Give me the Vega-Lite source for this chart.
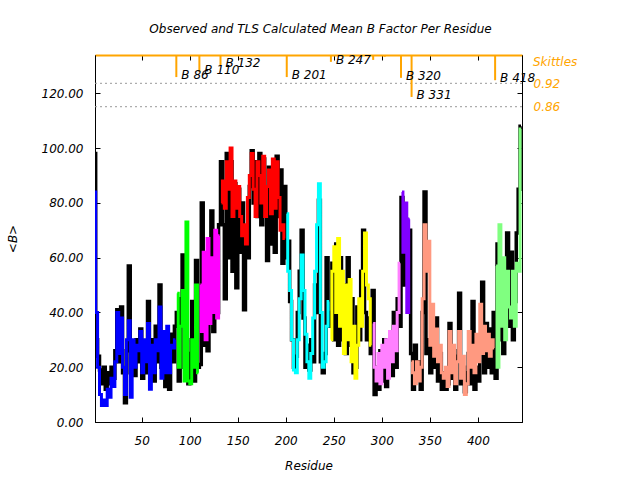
{
  "$schema": "https://vega.github.io/schema/vega-lite/v6.json",
  "width": 427,
  "height": 367,
  "autosize": "none",
  "padding": {"left": 95, "top": 55, "right": 118, "bottom": 58},
  "background": "white",
  "config": {
    "view": {"stroke": "black", "strokeWidth": 1},
    "font": "DejaVu Sans",
    "axis": {"labelFont": "DejaVu Sans", "labelFontStyle": "italic", "labelFontSize": 12, "labelColor": "black", "titleFont": "DejaVu Sans", "titleFontStyle": "italic", "titleFontWeight": "normal", "titleFontSize": 12, "titleColor": "black", "grid": false, "domainColor": "black", "tickColor": "black"}
  },
  "title": {"text": "Observed and TLS Calculated Mean B Factor Per Residue", "font": "DejaVu Sans", "fontStyle": "italic", "fontWeight": "normal", "fontSize": 12, "color": "black", "dx": 12, "offset": 13},
  "datasets": {
    "res": [
      {"r":1,"o":98,"t":84,"g":"A"},{"r":3,"o":30,"t":40,"g":"A"},{"r":5,"o":24,"t":20,"g":"A"},{"r":7,"o":19,"t":10,"g":"A"},{"r":9,"o":14,"t":6,"g":"A"},{"r":11,"o":20,"t":8,"g":"A"},{"r":13,"o":12,"t":6,"g":"A"},{"r":15,"o":18,"t":12,"g":"A"},{"r":17,"o":14,"t":9,"g":"A"},{"r":19,"o":20,"t":16,"g":"A"},{"r":21,"o":16,"t":13,"g":"A"},{"r":23,"o":26,"t":22,"g":"A"},{"r":25,"o":41,"t":40,"g":"A"},{"r":27,"o":22,"t":25,"g":"A"},{"r":29,"o":42,"t":38,"g":"A"},{"r":31,"o":18,"t":20,"g":"A"},{"r":33,"o":7,"t":10,"g":"A"},{"r":35,"o":26,"t":30,"g":"A"},{"r":37,"o":57,"t":37,"g":"A"},{"r":39,"o":18,"t":9,"g":"A"},{"r":41,"o":28,"t":30,"g":"A"},{"r":43,"o":17,"t":20,"g":"A"},{"r":45,"o":30,"t":28,"g":"A"},{"r":47,"o":22,"t":26,"g":"A"},{"r":49,"o":34,"t":33,"g":"A"},{"r":51,"o":16,"t":18,"g":"A"},{"r":53,"o":26,"t":30,"g":"A"},{"r":55,"o":18,"t":22,"g":"A"},{"r":57,"o":44,"t":36,"g":"A"},{"r":59,"o":20,"t":12,"g":"A"},{"r":61,"o":30,"t":28,"g":"A"},{"r":63,"o":15,"t":18,"g":"A"},{"r":65,"o":35,"t":30,"g":"A"},{"r":67,"o":22,"t":26,"g":"A"},{"r":69,"o":50,"t":42,"g":"A"},{"r":71,"o":20,"t":16,"g":"A"},{"r":73,"o":28,"t":33,"g":"A"},{"r":75,"o":13,"t":18,"g":"A"},{"r":77,"o":30,"t":35,"g":"A"},{"r":79,"o":12,"t":18,"g":"A"},{"r":81,"o":32,"t":28,"g":"A"},{"r":83,"o":22,"t":27,"g":"A"},{"r":85,"o":35,"t":30,"g":"A"},
      {"r":87,"o":40,"t":47,"g":"B"},{"r":89,"o":15,"t":20,"g":"B"},{"r":91,"o":45,"t":35,"g":"B"},{"r":93,"o":61,"t":48,"g":"B"},{"r":95,"o":20,"t":15,"g":"B"},{"r":97,"o":30,"t":73,"g":"B"},{"r":99,"o":14,"t":15,"g":"B"},{"r":101,"o":25,"t":14,"g":"B"},{"r":103,"o":44,"t":30,"g":"B"},{"r":105,"o":15,"t":20,"g":"B"},{"r":107,"o":59,"t":50,"g":"B"},{"r":109,"o":20,"t":18,"g":"B"},
      {"r":111,"o":21,"t":50,"g":"C"},{"r":113,"o":80,"t":33,"g":"C"},{"r":115,"o":28,"t":62,"g":"C"},{"r":117,"o":50,"t":30,"g":"C"},{"r":119,"o":26,"t":67,"g":"C"},{"r":121,"o":45,"t":36,"g":"C"},{"r":123,"o":77,"t":60,"g":"C"},{"r":125,"o":33,"t":40,"g":"C"},{"r":127,"o":62,"t":70,"g":"C"},{"r":129,"o":40,"t":38,"g":"C"},{"r":131,"o":72,"t":68,"g":"C"},
      {"r":133,"o":95,"t":80,"g":"D"},{"r":135,"o":72,"t":88,"g":"D"},{"r":137,"o":45,"t":78,"g":"D"},{"r":139,"o":98,"t":95,"g":"D"},{"r":141,"o":60,"t":85,"g":"D"},{"r":143,"o":95,"t":100,"g":"D"},{"r":145,"o":55,"t":75,"g":"D"},{"r":147,"o":87,"t":88,"g":"D"},{"r":149,"o":49,"t":78,"g":"D"},{"r":151,"o":85,"t":86,"g":"D"},{"r":153,"o":62,"t":75,"g":"D"},{"r":155,"o":80,"t":68,"g":"D"},{"r":157,"o":41,"t":72,"g":"D"},{"r":159,"o":70,"t":65,"g":"D"},{"r":161,"o":60,"t":82,"g":"D"},{"r":163,"o":86,"t":90,"g":"D"},{"r":165,"o":99,"t":98,"g":"D"},{"r":167,"o":80,"t":85,"g":"D"},{"r":169,"o":95,"t":75,"g":"D"},{"r":171,"o":75,"t":95,"g":"D"},{"r":173,"o":98,"t":90,"g":"D"},{"r":175,"o":72,"t":80,"g":"D"},{"r":177,"o":96,"t":97,"g":"D"},{"r":179,"o":85,"t":75,"g":"D"},{"r":181,"o":59,"t":86,"g":"D"},{"r":183,"o":93,"t":92,"g":"D"},{"r":185,"o":65,"t":76,"g":"D"},{"r":187,"o":90,"t":96,"g":"D"},{"r":189,"o":62,"t":78,"g":"D"},{"r":191,"o":97,"t":95,"g":"D"},{"r":193,"o":75,"t":82,"g":"D"},{"r":195,"o":92,"t":70,"g":"D"},{"r":197,"o":58,"t":72,"g":"D"},{"r":199,"o":86,"t":67,"g":"D"},
      {"r":201,"o":60,"t":76,"g":"E"},{"r":203,"o":66,"t":55,"g":"E"},{"r":205,"o":44,"t":48,"g":"E"},{"r":207,"o":30,"t":30,"g":"E"},{"r":209,"o":20,"t":19,"g":"E"},{"r":211,"o":24,"t":18,"g":"E"},{"r":213,"o":40,"t":30,"g":"E"},{"r":215,"o":55,"t":45,"g":"E"},{"r":217,"o":70,"t":61,"g":"E"},{"r":219,"o":38,"t":48,"g":"E"},{"r":221,"o":20,"t":32,"g":"E"},{"r":223,"o":28,"t":22,"g":"E"},{"r":225,"o":19,"t":16,"g":"E"},{"r":227,"o":30,"t":25,"g":"E"},{"r":229,"o":22,"t":38,"g":"E"},{"r":231,"o":50,"t":55,"g":"E"},{"r":233,"o":40,"t":72,"g":"E"},{"r":235,"o":81,"t":87,"g":"E"},{"r":237,"o":22,"t":40,"g":"E"},{"r":239,"o":18,"t":20,"g":"E"},{"r":241,"o":25,"t":22,"g":"E"},{"r":243,"o":60,"t":35,"g":"E"},{"r":245,"o":35,"t":44,"g":"E"},
      {"r":247,"o":40,"t":30,"g":"F"},{"r":249,"o":58,"t":55,"g":"F"},{"r":251,"o":30,"t":64,"g":"F"},{"r":253,"o":65,"t":40,"g":"F"},{"r":255,"o":28,"t":67,"g":"F"},{"r":257,"o":60,"t":35,"g":"F"},{"r":259,"o":30,"t":55,"g":"F"},{"r":261,"o":50,"t":25,"g":"F"},{"r":263,"o":25,"t":50,"g":"F"},{"r":265,"o":60,"t":30,"g":"F"},{"r":267,"o":28,"t":52,"g":"F"},{"r":269,"o":45,"t":22,"g":"F"},{"r":271,"o":18,"t":35,"g":"F"},{"r":273,"o":20,"t":16,"g":"F"},{"r":275,"o":42,"t":28,"g":"F"},{"r":277,"o":30,"t":45,"g":"F"},{"r":279,"o":55,"t":35,"g":"F"},{"r":281,"o":70,"t":55,"g":"F"},{"r":283,"o":40,"t":69,"g":"F"},{"r":285,"o":30,"t":50,"g":"F"},{"r":287,"o":38,"t":45,"g":"F"},{"r":289,"o":25,"t":28,"g":"F"},
      {"r":291,"o":48,"t":36,"g":"G"},{"r":293,"o":10,"t":20,"g":"G"},{"r":295,"o":20,"t":15,"g":"G"},{"r":297,"o":12,"t":25,"g":"G"},{"r":299,"o":26,"t":14,"g":"G"},{"r":301,"o":15,"t":28,"g":"G"},{"r":303,"o":30,"t":20,"g":"G"},{"r":305,"o":13,"t":30,"g":"G"},{"r":307,"o":22,"t":16,"g":"G"},{"r":309,"o":28,"t":33,"g":"G"},{"r":311,"o":17,"t":22,"g":"G"},{"r":313,"o":40,"t":35,"g":"G"},{"r":315,"o":20,"t":26,"g":"G"},{"r":317,"o":45,"t":40,"g":"G"},{"r":319,"o":35,"t":58,"g":"G"},
      {"r":321,"o":82,"t":84,"g":"H"},{"r":323,"o":50,"t":62,"g":"H"},{"r":325,"o":74,"t":80,"g":"H"},{"r":327,"o":52,"t":40,"g":"H"},{"r":329,"o":70,"t":74,"g":"H"},
      {"r":331,"o":25,"t":22,"g":"I"},{"r":333,"o":12,"t":18,"g":"I"},{"r":335,"o":28,"t":14,"g":"I"},{"r":337,"o":16,"t":22,"g":"I"},{"r":339,"o":22,"t":15,"g":"I"},{"r":341,"o":12,"t":20,"g":"I"},{"r":343,"o":40,"t":45,"g":"I"},{"r":345,"o":84,"t":72,"g":"I"},{"r":347,"o":25,"t":55,"g":"I"},{"r":349,"o":30,"t":66,"g":"I"},{"r":351,"o":18,"t":28,"g":"I"},{"r":353,"o":35,"t":43,"g":"I"},{"r":355,"o":20,"t":24,"g":"I"},{"r":357,"o":38,"t":34,"g":"I"},{"r":359,"o":15,"t":22,"g":"I"},{"r":361,"o":25,"t":28,"g":"I"},{"r":363,"o":12,"t":18,"g":"I"},{"r":365,"o":18,"t":16,"g":"I"},{"r":367,"o":12,"t":20,"g":"I"},{"r":369,"o":14,"t":13,"g":"I"},{"r":371,"o":36,"t":33,"g":"I"},{"r":373,"o":16,"t":18,"g":"I"},{"r":375,"o":26,"t":28,"g":"I"},{"r":377,"o":12,"t":14,"g":"I"},{"r":379,"o":24,"t":22,"g":"I"},{"r":381,"o":47,"t":33,"g":"I"},{"r":383,"o":14,"t":16,"g":"I"},{"r":385,"o":20,"t":24,"g":"I"},{"r":387,"o":11,"t":10,"g":"I"},{"r":389,"o":18,"t":14,"g":"I"},{"r":391,"o":25,"t":33,"g":"I"},{"r":393,"o":14,"t":20,"g":"I"},{"r":395,"o":44,"t":28,"g":"I"},{"r":397,"o":12,"t":18,"g":"I"},{"r":399,"o":20,"t":32,"g":"I"},{"r":401,"o":15,"t":22,"g":"I"},{"r":403,"o":30,"t":43,"g":"I"},{"r":405,"o":51,"t":25,"g":"I"},{"r":407,"o":18,"t":35,"g":"I"},{"r":409,"o":36,"t":26,"g":"I"},{"r":411,"o":20,"t":32,"g":"I"},{"r":413,"o":34,"t":24,"g":"I"},{"r":415,"o":18,"t":30,"g":"I"},{"r":417,"o":40,"t":27,"g":"I"},
      {"r":419,"o":16,"t":57,"g":"J"},{"r":421,"o":65,"t":20,"g":"J"},{"r":423,"o":30,"t":72,"g":"J"},{"r":425,"o":55,"t":35,"g":"J"},{"r":427,"o":25,"t":60,"g":"J"},{"r":429,"o":48,"t":30,"g":"J"},{"r":431,"o":69,"t":55,"g":"J"},{"r":433,"o":35,"t":42,"g":"J"},{"r":435,"o":62,"t":38,"g":"J"},{"r":437,"o":30,"t":55,"g":"J"},{"r":439,"o":44,"t":35,"g":"J"},{"r":441,"o":69,"t":58,"g":"J"},{"r":443,"o":85,"t":55,"g":"J"},{"r":445,"o":108,"t":107,"g":"J"}
    ],
    "sk": [
      {"r":86,"s":0.936,"label":"B 86"},
      {"r":110,"s":0.949,"label":"B 110"},
      {"r":132,"s":0.967,"label":"B 132"},
      {"r":201,"s":0.936,"label":"B 201"},
      {"r":247,"s":0.975,"label":"B 247"},
      {"r":291,"s":0.98,"label":""},
      {"r":303,"s":0.988,"label":""},
      {"r":320,"s":0.934,"label":"B 320"},
      {"r":331,"s":0.885,"label":"B 331"},
      {"r":418,"s":0.928,"label":"B 418"}
    ],
    "thr": [{"s":0.92},{"s":0.86}],
    "skt": [{"s":0.975,"label":"Skittles"}]
  },
  "layer": [
    {
      "data": {"name": "res"},
      "mark": {"type": "line", "color": "black", "strokeWidth": 3.5, "interpolate": "step", "clip": true},
      "encoding": {
        "x": {"field": "r", "type": "quantitative", "scale": {"domain": [1.3, 446], "nice": false, "zero": false},
              "axis": {"orient": "bottom", "values": [50,100,150,200,250,300,350,400], "tickSize": -5, "labelPadding": 18, "title": "Residue", "titlePadding": 14}},
        "y": {"field": "o", "type": "quantitative", "scale": {"domain": [0, 134], "nice": false},
              "axis": {"orient": "left", "values": [0,20,40,60,80,100,120], "format": ".2f", "tickSize": -5, "labelPadding": 17, "title": "<B>", "titlePadding": 22}}
      }
    },
    {
      "data": {"name": "res"},
      "mark": {"type": "line", "strokeWidth": 3, "interpolate": "step", "clip": true},
      "encoding": {
        "x": {"field": "r", "type": "quantitative",
              "axis": {"orient": "top", "values": [50,100,150,200,250,300,350,400], "tickSize": -5, "labels": false, "title": null, "domainColor": "#ffa500", "domainWidth": 2}},
        "y": {"field": "t", "type": "quantitative", "scale": {"domain": [0, 134], "nice": false},
              "axis": {"orient": "right", "values": [0,20,40,60,80,100,120], "tickSize": -5, "labels": false, "title": null}},
        "color": {"field": "g", "type": "nominal", "legend": null,
                  "scale": {"domain": ["A","B","C","D","E","F","G","H","I","J"], "range": ["#0000ff","#00ff00","#ff00ff","#ff0000","#00ffff","#ffff00","#ff80ff","#8000ff","#ff9980","#80ff80"]}}
      }
    },
    {
      "encoding": {
        "y": {"field": "s", "type": "quantitative", "scale": {"domain": [0.0515, 0.9926], "nice": false, "zero": false},
              "axis": {"orient": "right", "values": [0.92, 0.86], "format": ".2f", "ticks": false, "domain": false, "labelColor": "#ffa500", "labelPadding": 11, "title": null}}
      },
      "layer": [
        {
          "data": {"name": "thr"},
          "mark": {"type": "rule", "color": "#999999", "strokeWidth": 1, "strokeDash": [2, 3]}
        },
        {
          "data": {"name": "sk"},
          "mark": {"type": "rule", "color": "#ffa500", "strokeWidth": 2},
          "encoding": {
            "x": {"field": "r", "type": "quantitative", "axis": null},
            "y2": {"datum": 0.9926}
          }
        },
        {
          "data": {"name": "sk"},
          "mark": {"type": "text", "align": "left", "baseline": "middle", "dx": 5, "dy": -2, "font": "DejaVu Sans", "fontStyle": "italic", "fontSize": 12, "color": "black"},
          "encoding": {
            "x": {"field": "r", "type": "quantitative", "axis": null},
            "text": {"field": "label"}
          }
        },
        {
          "data": {"name": "skt"},
          "mark": {"type": "text", "align": "left", "baseline": "middle", "dx": 11, "font": "DejaVu Sans", "fontStyle": "italic", "fontSize": 12, "color": "#ffa500"},
          "encoding": {
            "x": {"datum": 446, "type": "quantitative", "axis": null},
            "text": {"field": "label"}
          }
        }
      ]
    }
  ],
  "resolve": {"scale": {"y": "independent"}, "axis": {"x": "independent", "y": "independent"}}
}
